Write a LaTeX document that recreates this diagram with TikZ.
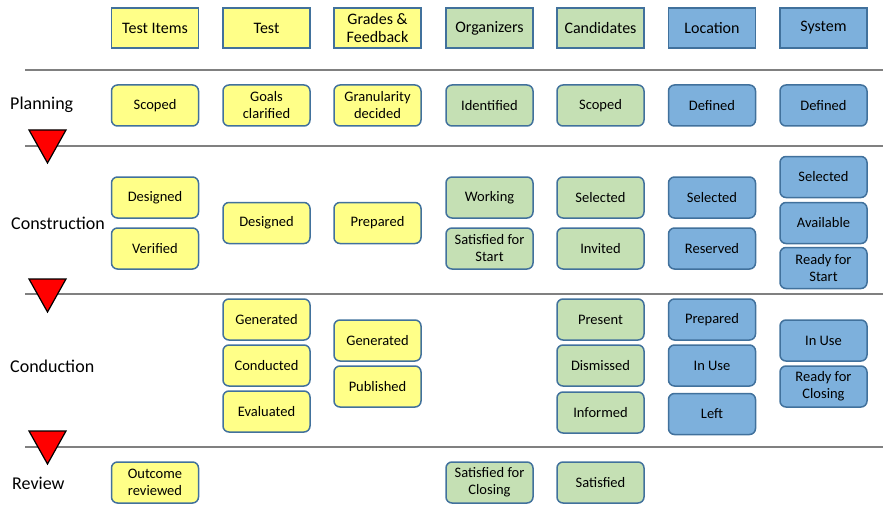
\documentclass[tikz,border=0pt]{standalone}
\usepackage{fontspec}
\setmainfont{Carlito}
\definecolor{yfill}{HTML}{FFFF88}
\definecolor{gfill}{HTML}{C5E0B4}
\definecolor{bfill}{HTML}{7DB0DC}
\definecolor{edge}{HTML}{41719C}
\definecolor{rule}{HTML}{808080}
\tikzset{
  hdr/.style={draw=edge, line width=1.5pt, minimum width=87pt, minimum height=40pt, inner sep=1pt, align=center, font=\fontsize{16}{18}\selectfont},
  st/.style={draw=edge, line width=1.5pt, rounded corners=6pt, minimum width=87pt, minimum height=41pt, inner sep=1pt, align=center, font=\fontsize{14.5}{17}\selectfont},
  Y/.style={fill=yfill}, G/.style={fill=gfill}, B/.style={fill=bfill},
  rowlbl/.style={anchor=west, inner sep=0pt, font=\fontsize{18}{20}\selectfont},
  sep/.style={draw=rule, line width=1.1pt},
  tri/.style={fill=red, draw=black, line width=1.2pt, line join=miter}
}
\begin{document}
\begin{tikzpicture}[x=1pt,y=-1pt]
\useasboundingbox (0,0) rectangle (883,516);
% headers
\node[hdr,Y] (h1) at (155,28) {Test Items};
\node[hdr,Y] (h2) at (266.5,28) {Test};
\node[hdr,Y] (h3) at (377.5,28) {Grades \&\\Feedback};
\node[hdr,G] (h4) at (489.5,28) {Organizers};
\node[hdr,G] (h5) at (600.5,28) {Candidates};
\node[hdr,B] (h6) at (712,28) {Location};
\node[hdr,B] (h7) at (823.5,28) {System};
% separators
\draw[sep] (25,70) -- (883,70);
\draw[sep] (25,146) -- (883,146);
\draw[sep] (25,294) -- (883,294);
\draw[sep] (25,447) -- (883,447);
% triangles
\draw[tri] (29,130) -- (66,130) -- (47.5,163) -- cycle;
\draw[tri] (29,279) -- (66,279) -- (47.5,312) -- cycle;
\draw[tri] (29,431) -- (66,431) -- (47.5,464) -- cycle;
% row labels
\node[rowlbl] (r1) at (10,105) {Planning};
\node[rowlbl] (r2) at (11,223) {Construction};
\node[rowlbl] (r3) at (10,366) {Conduction};
\node[rowlbl] (r4) at (12,483) {Review};
% planning
\node[st,Y] (p1) at (155,105.5) {Scoped};
\node[st,Y] (p2) at (266.5,105.5) {Goals\\clarified};
\node[st,Y] (p3) at (377.5,105.5) {Granularity\\decided};
\node[st,G] (p4) at (489.5,105.5) {Identified};
\node[st,G] (p5) at (600.5,105.5) {Scoped};
\node[st,B] (p6) at (712,105.5) {Defined};
\node[st,B] (p7) at (823.5,105.5) {Defined};
% construction
\node[st,Y] (c1a) at (155,197.5) {Designed};
\node[st,Y] (c1b) at (155,248.5) {Verified};
\node[st,Y] (c2) at (266.5,223) {Designed};
\node[st,Y] (c3) at (377.5,223) {Prepared};
\node[st,G] (c4a) at (489.5,197.5) {Working};
\node[st,G] (c4b) at (489.5,248.5) {Satisfied for\\Start};
\node[st,G] (c5a) at (600.5,197.5) {Selected};
\node[st,G] (c5b) at (600.5,248.5) {Invited};
\node[st,B] (c6a) at (712,197.5) {Selected};
\node[st,B] (c6b) at (712,248.5) {Reserved};
\node[st,B] (c7a) at (823.5,177) {Selected};
\node[st,B] (c7b) at (823.5,223) {Available};
\node[st,B] (c7c) at (823.5,268) {Ready for\\Start};
% conduction
\node[st,Y] (d2a) at (266.5,319.5) {Generated};
\node[st,Y] (d2b) at (266.5,365.5) {Conducted};
\node[st,Y] (d2c) at (266.5,411.5) {Evaluated};
\node[st,Y] (d3a) at (377.5,340.5) {Generated};
\node[st,Y] (d3b) at (377.5,386.5) {Published};
\node[st,G] (d5a) at (600.5,319.5) {Present};
\node[st,G] (d5b) at (600.5,365.5) {Dismissed};
\node[st,G] (d5c) at (600.5,412.5) {Informed};
\node[st,B] (d6a) at (712,319.5) {Prepared};
\node[st,B] (d6b) at (712,365.5) {In Use};
\node[st,B] (d6c) at (712,414) {Left};
\node[st,B] (d7a) at (823.5,340.5) {In Use};
\node[st,B] (d7b) at (823.5,386.5) {Ready for\\Closing};
% review
\node[st,Y] (v1) at (155,482.5) {Outcome\\reviewed};
\node[st,G] (v4) at (489.5,482.5) {Satisfied for\\Closing};
\node[st,G] (v5) at (600.5,482.5) {Satisfied};
\end{tikzpicture}
\end{document}
